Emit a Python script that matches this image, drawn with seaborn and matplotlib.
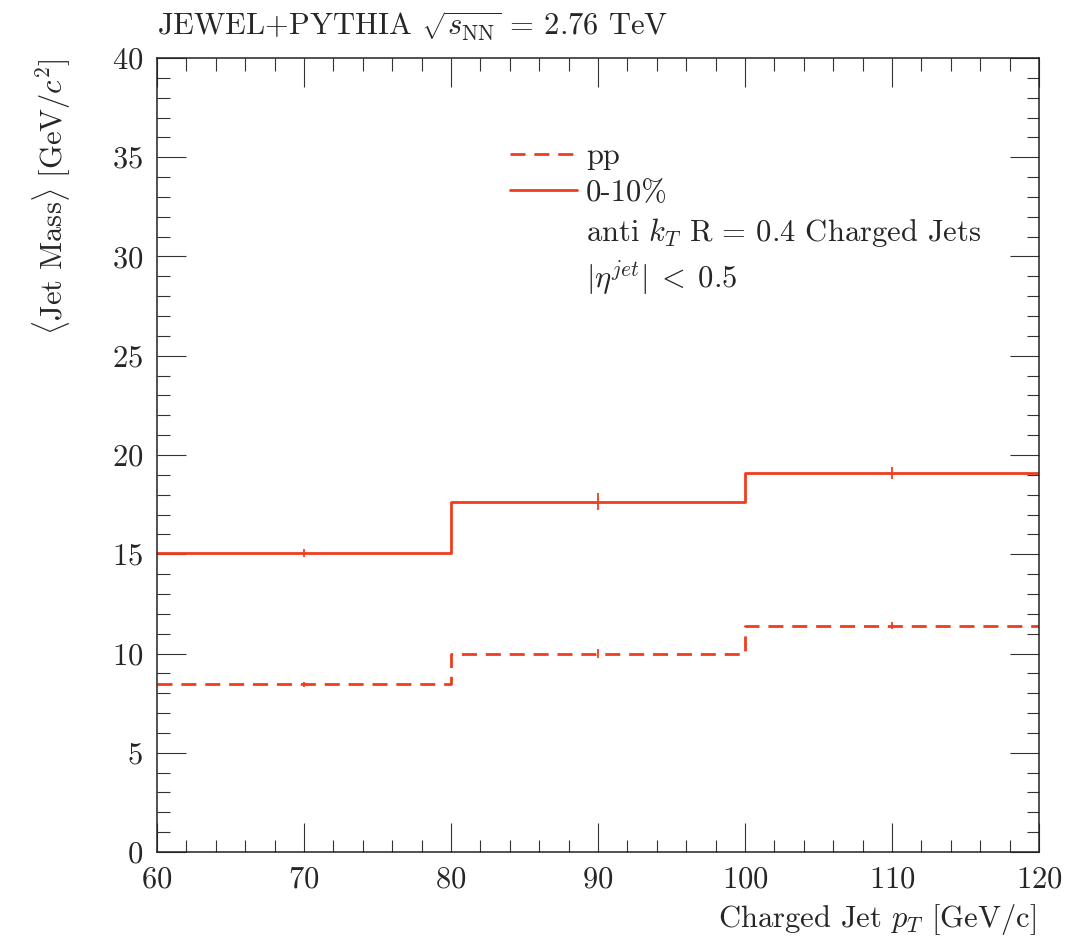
import numpy as np
import pandas as pd
import matplotlib
matplotlib.use("Agg")
import matplotlib.pyplot as plt
import seaborn as sns
from matplotlib.lines import Line2D
from matplotlib.ticker import MultipleLocator

# Jet pT bins [GeV/c]
bin_edges = [60, 80, 100, 120]
# Mean charged-jet mass per bin [GeV/c^2]
mass_pp = [8.45, 10.0, 11.4]
err_pp = [0.12, 0.23, 0.18]
mass_central = [15.05, 17.65, 19.1]
err_central = [0.2, 0.42, 0.3]
series_labels = ["pp", "0-10%"]

sns.set_style("ticks")
plt.rcParams["font.family"] = ["cmr10", "DejaVu Serif"]
plt.rcParams["mathtext.fontset"] = "cm"
plt.rcParams["axes.formatter.use_mathtext"] = True
plt.rcParams["axes.unicode_minus"] = False

RED = "#f03c1c"
FS = 22

fig = plt.figure(figsize=(10.76, 9.38), dpi=100)
ax = fig.add_axes([157 / 1076, 1 - 852 / 938, (1039 - 157) / 1076, (852 - 58) / 938])


def step_frame(edges, values):
    return pd.DataFrame({"pt": edges, "mass": list(values) + [values[-1]]})


centers = [(a + b) / 2 for a, b in zip(bin_edges[:-1], bin_edges[1:])]

lw = 2.0
dash = (0, (5.4, 3.2))
sns.lineplot(data=step_frame(bin_edges, mass_pp), x="pt", y="mass", ax=ax,
             drawstyle="steps-post", color=RED, lw=lw, dashes=False,
             linestyle=dash, estimator=None, sort=False)
sns.lineplot(data=step_frame(bin_edges, mass_central), x="pt", y="mass", ax=ax,
             drawstyle="steps-post", color=RED, lw=lw, estimator=None, sort=False)

# statistical uncertainties at bin centres
for vals, errs in [(mass_pp, err_pp), (mass_central, err_central)]:
    ax.vlines(centers, np.array(vals) - np.array(errs), np.array(vals) + np.array(errs),
              color=RED, lw=1.3)

ax.set_xlim(60, 120)
ax.set_ylim(0, 40)
ax.xaxis.set_major_locator(MultipleLocator(10))
ax.xaxis.set_minor_locator(MultipleLocator(2))
ax.yaxis.set_major_locator(MultipleLocator(5))
ax.yaxis.set_minor_locator(MultipleLocator(1))
ax.tick_params(which="both", direction="in", top=True, right=True,
               labelsize=FS, color="#333333", width=0.8)
ax.tick_params(which="major", length=21, pad=10)
ax.tick_params(which="minor", length=9)
for s in ax.spines.values():
    s.set_linewidth(1.1)
    s.set_color("#222222")

ax.set_xlabel(r"Charged Jet $p_{T}$ [GeV/c]", fontsize=FS, ha="right", x=0.997, labelpad=6)
ax.set_ylabel(r"$\langle$Jet Mass$\rangle$ [GeV/$c^{2}$]", fontsize=FS, ha="right", y=1.0, labelpad=28)

fig.text(157 / 1076, 1 - 36 / 938, r"JEWEL+PYTHIA $\sqrt{s_{\mathrm{NN}}}$ = 2.76 TeV",
         fontsize=FS, ha="left", va="baseline")

handles = [
    Line2D([], [], color=RED, lw=lw, linestyle=dash),
    Line2D([], [], color=RED, lw=lw),
    Line2D([], [], color="none"),
    Line2D([], [], color="none"),
]
labels = series_labels + [r"anti $k_{T}$ R = 0.4 Charged Jets", r"$|\eta^{jet}|\;<\;0.5$"]
ax.legend(handles, labels, loc="upper left", bbox_to_anchor=(0.40, 0.893),
          frameon=False, fontsize=FS, handlelength=2.2, handletextpad=0.3,
          borderpad=0, borderaxespad=0, labelspacing=0.3)

fig.savefig("out.png", dpi=100)
